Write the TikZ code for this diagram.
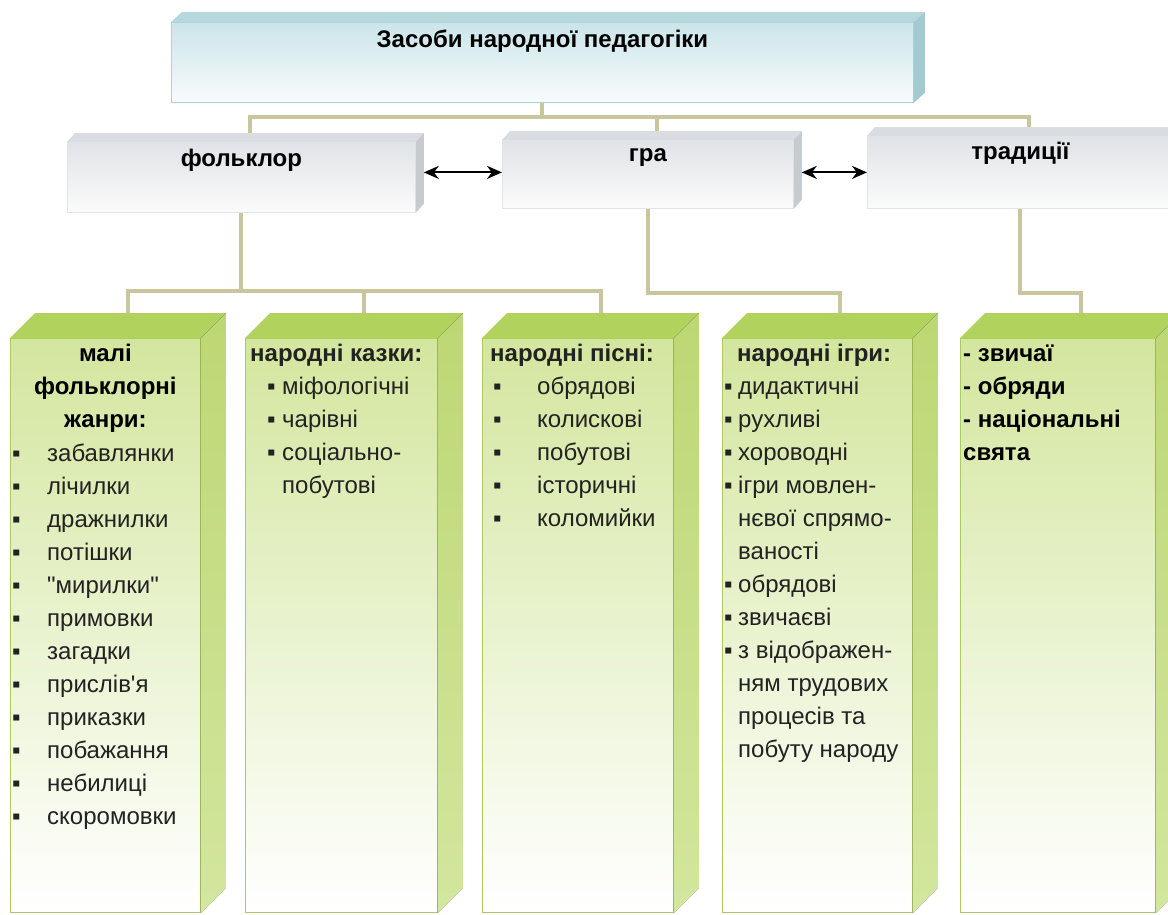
\documentclass[tikz,border=0pt]{standalone}
\usepackage{fontspec}
\setmainfont{Liberation Sans}[Ligatures=TeXOff]
\usepackage{tikz}
\usetikzlibrary{arrows.meta}
\definecolor{linkc}{HTML}{C9C59C}
\definecolor{titletop}{HTML}{CBE5EA}
\definecolor{titlebot}{HTML}{F8FBFC}
\definecolor{titleface}{HTML}{B6D8DD}
\definecolor{titleside}{HTML}{A2CAD0}
\definecolor{titleln}{HTML}{ADD2D8}
\definecolor{graytop}{HTML}{E0E3E7}
\definecolor{graybot}{HTML}{FBFBFB}
\definecolor{grayface}{HTML}{D9DDE1}
\definecolor{grayside}{HTML}{C6CBD0}
\definecolor{grayln}{HTML}{E2E5E8}
\definecolor{greentop}{HTML}{D3E69E}
\definecolor{greenface}{HTML}{B1D35E}
\definecolor{greenside}{HTML}{BDD774}
\definecolor{greenln}{HTML}{ABCB60}
\definecolor{textc}{HTML}{222222}
\newcommand{\itm}[1]{\makebox[#1][l]{▪}}

\begin{document}
\begin{tikzpicture}[x=1pt, y=-1pt,
  txt/.style={font=\fontsize{24}{33}\selectfont, text=textc, inner sep=0pt, align=left},
  head/.style={txt, font=\fontsize{24}{33}\selectfont\bfseries, text=black},
  titlebox/.style={head, draw=titleln, line width=0.8pt, top color=titletop, bottom color=titlebot, anchor=north west},
  graybox/.style={head, draw=grayln, line width=0.8pt, top color=graytop, bottom color=graybot, anchor=north west},
  greenbox/.style={draw=greenln, line width=0.8pt, top color=greentop, bottom color=white, inner sep=0pt, anchor=north west, minimum height=574pt},
  link/.style={draw=linkc, line width=4pt},
  both/.style={<->, >={Stealth[length=15pt, width=13pt]}, line width=2pt}]
\useasboundingbox (0,0) rectangle (1168,914);

\node[titlebox, minimum width=742pt, text height=25pt, text depth=55pt] (title) at (171,22) {Засоби народної педагогіки};
\fill[titleface] (title.north west) -- ++(11,-10) -- ([shift={(11,-10)}]title.north east) -- (title.north east) -- cycle;
\fill[titleside] (title.north east) -- ++(11,-10) -- ([shift={(11,-10)}]title.south east) -- (title.south east) -- cycle;

\node[graybox, minimum width=348pt, text height=24pt, text depth=46pt] (folk) at (67,142) {фольклор};
\node[graybox, minimum width=291pt, text height=21pt, text depth=47pt] (gra) at (502,140) {гра};
\node[graybox, minimum width=306pt, text height=23pt, text depth=49pt] (trad) at (867,136) {традиції};
\foreach \b in {folk,gra,trad} {
  \fill[grayface] (\b.north west) -- ++(8,-9) -- ([shift={(8,-9)}]\b.north east) -- (\b.north east) -- cycle;
  \fill[grayside] (\b.north east) -- ++(8,-9) -- ([shift={(8,-9)}]\b.south east) -- (\b.south east) -- cycle;
}

\foreach \n/\x/\w in {1/10/190, 2/245/192, 3/482/191, 4/722/190, 5/960/195} {
  \node[greenbox, minimum width=\w pt] (g\n) at (\x,338) {};
  \fill[greenface] (g\n.north west) -- ++(25,-25) -- ([shift={(25,-25)}]g\n.north east) -- (g\n.north east) -- cycle;
  \fill[top color=greenside, bottom color=greentop] (g\n.north east) -- ++(25,-25) -- ([shift={(25,-25)}]g\n.south east) -- (g\n.south east) -- cycle;
  \coordinate (gt\n) at ([shift={(23,-25)}]g\n.north);
}

\draw[link] (title.south) -- ++(0,14) coordinate (tj);
\draw[link] ([shift={(9,-9)}]folk.north) |- (tj) -| ([shift={(9,-9)}]trad.north);
\draw[link] (tj) -| ([shift={(9,-9)}]gra.north);
\draw[link] (folk.south) -- ++(0,78) coordinate (fj);
\draw[link] (gt1) |- (fj) -| (gt3);
\draw[link] (gt2) -- (gt2 |- fj);
\draw[link] (gra.south) -- ++(0,84) -| (gt4);
\draw[link] (trad.south) -- ++(0,84) -| (gt5);

\draw[both] ([shift={(8,-5)}]folk.east) -- ([shift={(0,-2)}]gra.west);
\draw[both] ([shift={(8,-2)}]gra.east) -- (trad.west);

\node[head, anchor=north, text width=190pt, align=center] (h1) at (g1.north) {\strut малі\\фольклорні\\жанри:};
\node[txt, anchor=north west] (t1) at ([shift={(2,100)}]g1.north west) {\strut\itm{35pt}забавлянки\\
  \itm{35pt}лічилки\\ \itm{35pt}дражнилки\\ \itm{35pt}потішки\\ \itm{35pt}"мирилки"\\
  \itm{35pt}примовки\\ \itm{35pt}загадки\\ \itm{35pt}прислів'я\\ \itm{35pt}приказки\\
  \itm{35pt}побажання\\ \itm{35pt}небилиці\\ \itm{35pt}скоромовки};
\node[txt, anchor=north west] (t2) at ([xshift=5]g2.north west) {\strut\textbf{народні казки:}\\
  \hspace*{17pt}\itm{15pt}міфологічні\\ \hspace*{17pt}\itm{15pt}чарівні\\
  \hspace*{17pt}\itm{15pt}соціально-\\ \hspace*{32pt}побутові};
\node[txt, anchor=north west] (t3) at ([xshift=8]g3.north west) {\strut\textbf{народні пісні:}\\
  \hspace*{3pt}\itm{44pt}обрядові\\ \hspace*{3pt}\itm{44pt}колискові\\ \hspace*{3pt}\itm{44pt}побутові\\
  \hspace*{3pt}\itm{44pt}історичні\\ \hspace*{3pt}\itm{44pt}коломийки};
\node[txt, anchor=north west] (t4) at (g4.north west) {\strut\hspace*{15pt}\textbf{народні ігри:}\\
  \hspace*{2pt}\itm{14pt}дидактичні\\ \hspace*{2pt}\itm{14pt}рухливі\\ \hspace*{2pt}\itm{14pt}хороводні\\
  \hspace*{2pt}\itm{14pt}ігри мовлен-\\ \hspace*{16pt}нєвої спрямо-\\ \hspace*{16pt}ваності\\
  \hspace*{2pt}\itm{14pt}обрядові\\ \hspace*{2pt}\itm{14pt}звичаєві\\ \hspace*{2pt}\itm{14pt}з відображен-\\
  \hspace*{16pt}ням трудових\\ \hspace*{16pt}процесів та\\ \hspace*{16pt}побуту народу};
\node[head, anchor=north west] (t5) at ([xshift=3]g5.north west) {\strut- звичаї\\ - обряди\\ - національні\\ свята};
\end{tikzpicture}
\end{document}
